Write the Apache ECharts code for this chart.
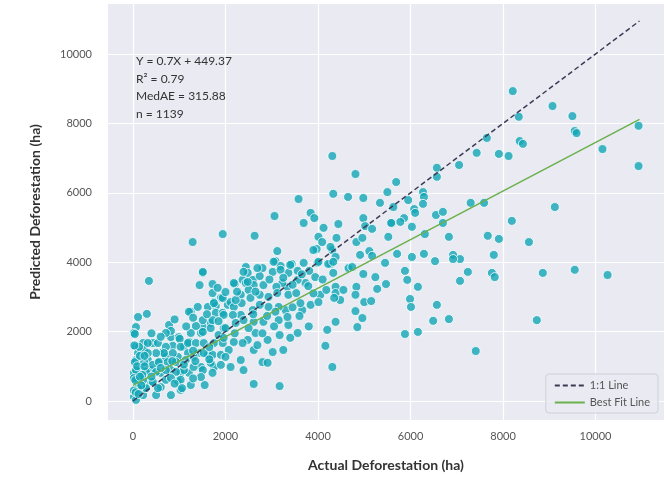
<!DOCTYPE html>
<html>
<head>
<meta charset="utf-8">
<script src="https://cdn.jsdelivr.net/npm/echarts@6/dist/echarts.min.js"></script>
<style>
  html, body { margin: 0; padding: 0; background: #fff; }
  #chart { width: 671px; height: 479px; }
</style>
</head>
<body>
<div id="chart"></div>
<script>
// ── Actual vs predicted deforestation (ha) ──

const xTicks = [0, 2000, 4000, 6000, 8000, 10000];
const yTicks = [0, 2000, 4000, 6000, 8000, 10000];

// [actual, predicted]
const samples = [
  [8210, 8930], [9070, 8500], [8340, 8190], [9500, 8210], [9550, 7780], [9590, 7720], [10930, 7930],
  [8360, 7490], [8430, 7410], [7650, 7580], [7430, 7150], [7910, 7120], [8120, 7060], [7050, 6800],
  [6570, 6720], [6570, 6460], [5690, 6310], [5500, 6020], [6270, 6020], [6290, 5880], [6270, 5680],
  [5950, 5790], [5630, 5590], [5340, 5710], [6080, 5530], [6100, 5420], [5860, 5270], [6550, 5360],
  [6700, 5450], [7300, 5710], [7590, 5710], [9120, 5590], [10150, 7260], [10930, 6770], [8190, 5190],
  [8560, 4580], [7670, 4760], [7910, 4670], [7800, 4210], [7760, 3690], [7820, 3570], [8860, 3690],
  [9550, 3780], [10260, 3630], [8730, 2330], [7410, 1440], [7240, 3720], [7070, 3460], [6830, 2360],
  [6490, 2310], [6570, 2770], [6160, 1990], [5880, 1930], [5990, 2940], [6010, 2710], [6160, 3290],
  [5930, 3490], [5880, 3750], [5470, 3370], [5450, 3980], [5710, 4240], [6030, 4150], [6290, 4240],
  [6530, 4030], [6920, 4210], [7070, 4090], [6920, 4090], [6830, 4730], [6700, 5130], [6310, 4810],
  [6030, 5020], [5520, 4730], [5600, 5130], [5780, 5160],
  [4310, 7060], [4810, 6540], [4330, 5970], [4650, 5880], [4980, 5850], [4440, 5100], [4980, 5270],
  [5020, 5040], [5170, 4960], [5580, 5130], [4400, 4700], [4830, 4580], [4960, 4700], [4310, 4350],
  [4380, 4150], [4910, 4210], [5110, 4320], [5170, 4180], [4270, 3950], [4660, 3830], [4740, 3860],
  [4330, 3690], [4980, 3660], [5240, 3570], [5280, 3230], [4380, 3290], [4380, 3110], [4550, 3200],
  [4830, 3290], [4810, 3060], [4480, 2910], [5000, 2850], [5150, 2880], [4810, 2590], [4960, 2390],
  [4380, 2280], [4850, 2130], [4310, 980],
  [3580, 5820], [3840, 5420], [3060, 5330], [3690, 5130], [3920, 5270], [4120, 4990], [4010, 4730],
  [1940, 4810], [2630, 4760], [1290, 4580], [345, 3460],
  [1510, 3690], [1440, 3340], [1720, 3370], [1720, 3110], [1900, 2970], [1750, 2850],
  [1250, 2570], [1400, 2710], [1620, 2710], [1790, 2740], [1790, 2540],
  [110, 2420], [300, 2510], [65, 2130], [20, 1960],
  [780, 2190], [820, 1840], [990, 1840], [860, 1590], [650, 1410], [1100, 1560], [1250, 1960],
  [1210, 1700], [1470, 1960], [1510, 2130], [1680, 2250],
  [430, 1670], [220, 1670], [65, 1560], [110, 1380], [240, 1470], [65, 1180], [320, 1180], [540, 1100],
  [710, 1270], [970, 1270], [1190, 1380], [1400, 1380], [1620, 1330], [1470, 980], [1750, 980],
  [1210, 810], [1030, 810], [820, 890], [600, 810], [390, 890], [170, 890], [20, 810], [110, 550],
  [240, 400], [390, 550], [600, 400], [820, 170], [1030, 320], [500, 170], [220, 170], [20, 120],
  [1550, 460], [2610, 490], [3170, 430], [970, 580], [1250, 460], [710, 610],
  [40, 1930], [820, 2020], [710, 1960], [1010, 1790], [1360, 2160], [1510, 1990], [1680, 2100],
  [1850, 1900], [1960, 2100], [1210, 2570], [1750, 2820], [1940, 2540], [2050, 2770], [1510, 2330],
  [1720, 2330], [1030, 1560], [1190, 1670], [1360, 1670], [1530, 1670], [1750, 1670], [1940, 1670],
  [130, 1560], [320, 1670], [540, 1670], [710, 1560], [860, 1380], [670, 1380], [500, 1380], [320, 1380],
  [40, 1120], [240, 1120], [430, 1040], [560, 1120], [750, 1120], [930, 1120], [1140, 1180], [1310, 1270],
  [1530, 1380], [1720, 1330], [1900, 1330], [1680, 1100], [1900, 1040], [1310, 980], [1510, 890],
  [1100, 890], [930, 840], [710, 890], [500, 840], [280, 840], [65, 890], [20, 660], [220, 610],
  [430, 550], [820, 660], [1030, 610], [1470, 690], [1720, 810], [1060, 370], [540, 370], [280, 370],
  [110, 370], [65, 30], [1510, 3720],
  [3120, 4320], [3080, 4030], [3970, 4380], [4090, 4580], [2200, 3370], [2440, 3860], [2480, 3690],
  [2370, 3490], [2590, 3490], [2800, 3830], [2740, 3600], [3020, 3720], [3190, 3890], [3430, 3950],
  [3360, 3690], [3560, 3750], [3690, 3980], [3810, 3750], [3990, 3980], [4220, 3950], [3940, 3570],
  [3730, 3400], [3790, 3310], [3560, 3490], [3340, 3290], [3230, 3400], [3100, 3290], [2820, 3340],
  [2610, 3340], [2440, 3400], [2500, 3200], [2330, 3060], [2110, 2850], [1940, 2970], [2180, 2710],
  [2350, 2820], [2540, 2970], [2740, 3060], [2930, 3000], [3120, 3110], [3360, 3060], [3660, 2620],
  [3620, 2820], [3840, 2770], [4050, 3060], [4180, 3200], [4010, 2850], [4350, 2970], [3530, 3110],
  [3300, 2620], [3150, 2710], [2930, 2710], [2740, 2770], [2590, 2620], [2330, 2480], [2160, 2480],
  [1960, 2480], [2000, 2100], [2220, 2250], [2390, 2330], [2610, 2280], [2820, 2280], [3080, 2570],
  [3150, 2330], [3360, 2190], [3340, 2420], [3560, 1960], [4200, 2050], [4160, 1590], [3400, 1820],
  [3170, 1900], [2910, 1760], [2650, 1960], [2480, 1760], [2370, 1670], [2180, 1700], [1960, 1820],
  [2070, 1470], [2000, 1270], [2110, 980], [2330, 1180], [2390, 890], [2610, 1470], [2690, 1610],
  [2800, 1120], [2910, 1100], [3020, 1410], [3250, 1470],
  [3900, 4350], [4270, 4440], [4330, 4010], [4010, 4010], [3400, 3920], [3190, 3780], [3040, 4010],
  [2690, 3830], [2390, 3720], [2480, 3430], [2180, 3400], [2000, 3140], [1830, 3260], [2220, 2910],
  [20, 300], [50, 600], [90, 1000], [150, 1300], [30, 1600], [200, 750], [250, 1000], [60, 250],
  [120, 200], [180, 450],
  // extra points filling the dense core
  [1300, 2400], [1600, 2500], [2600, 2500], [2900, 2450], [3450, 2700], [3250, 3550], [2950, 3500],
  [2650, 3150], [2250, 3150], [1850, 2300], [1150, 2150], [900, 2350], [600, 1850], [400, 1950],
  [1300, 1450], [1650, 1550], [2200, 1950], [2500, 2100], [2800, 1950], [3050, 2150], [3600, 2450],
  [3800, 2150], [3900, 3100], [4100, 3500], [3650, 3650], [3450, 3350], [1100, 1050], [1350, 1150],
  [1650, 1200], [850, 1150], [600, 950], [400, 700], [250, 1300], [150, 700], [900, 500], [1300, 650]
];

// reference lines
const lineX = [0, 10950];
const fitSlope = 0.7;
const fitIntercept = 449.37;
const statLines = ['Y = 0.7X + 449.37', 'R² = 0.79', 'MedAE = 315.88', 'n = 1139'];

const font = "'Century Gothic', 'URW Gothic', Lato, 'DejaVu Sans', sans-serif";

const chart = echarts.init(document.getElementById('chart'));

const axisCommon = {
  type: 'value',
  axisLine: { show: false },
  splitLine: { show: true, lineStyle: { color: '#ffffff', width: 1.2 } },
  nameLocation: 'middle',
  nameTextStyle: { fontFamily: font, fontWeight: 'bold', fontSize: 14, color: '#333' }
};

chart.setOption({
  animation: false,
  backgroundColor: '#ffffff',
  grid: {
    left: 108, right: 7, top: 4, bottom: 59,
    show: true, backgroundColor: '#eaeaf2', borderWidth: 0
  },
  xAxis: Object.assign({}, axisCommon, {
    min: -540, max: 11480,
    name: 'Actual Deforestation (ha)', nameGap: 38,
    axisTick: { show: false, customValues: xTicks },
    axisLabel: { customValues: xTicks, formatter: v => String(v), color: '#555', fontSize: 11, fontFamily: font, margin: 11 }
  }),
  yAxis: Object.assign({}, axisCommon, {
    min: -548, max: 11440,
    name: 'Predicted Deforestation (ha)', nameGap: 66,
    axisTick: { show: false, customValues: yTicks },
    axisLabel: { customValues: yTicks, formatter: v => String(v), color: '#555', fontSize: 11, fontFamily: font, margin: 16 }
  }),
  legend: {
    data: ['1:1 Line', 'Best Fit Line'],
    orient: 'vertical',
    right: 13, bottom: 66,
    itemWidth: 30, itemHeight: 10, itemGap: 6,
    padding: [6, 8, 5, 8],
    itemStyle: { opacity: 0 },
    backgroundColor: 'rgba(234,234,242,0.85)',
    borderColor: '#cfcfd6', borderWidth: 1, borderRadius: 3,
    textStyle: { color: '#555', fontSize: 11, fontFamily: font }
  },
  graphic: statLines.map((t, i) => ({
    type: 'text', left: 136, top: 55 + i * 17.7, z: 50,
    style: { text: t, fontSize: 12, fontFamily: font, fill: '#333' }
  })),
  series: [
    {
      type: 'scatter', name: 'samples', data: samples, symbolSize: 9, z: 2,
      itemStyle: { color: '#13a6b6', borderColor: '#ffffff', borderWidth: 1 }
    },
    {
      type: 'line', name: '1:1 Line', symbol: 'none', z: 4,
      data: lineX.map(x => [x, x]),
      lineStyle: { color: '#3b3b55', width: 1.5, type: [5, 3] },
      itemStyle: { color: '#3b3b55' }
    },
    {
      type: 'line', name: 'Best Fit Line', symbol: 'none', z: 3,
      data: lineX.map(x => [x, fitSlope * x + fitIntercept]),
      lineStyle: { color: '#6ab04c', width: 1.5 },
      itemStyle: { color: '#6ab04c' }
    }
  ]
});
</script>
</body>
</html>
